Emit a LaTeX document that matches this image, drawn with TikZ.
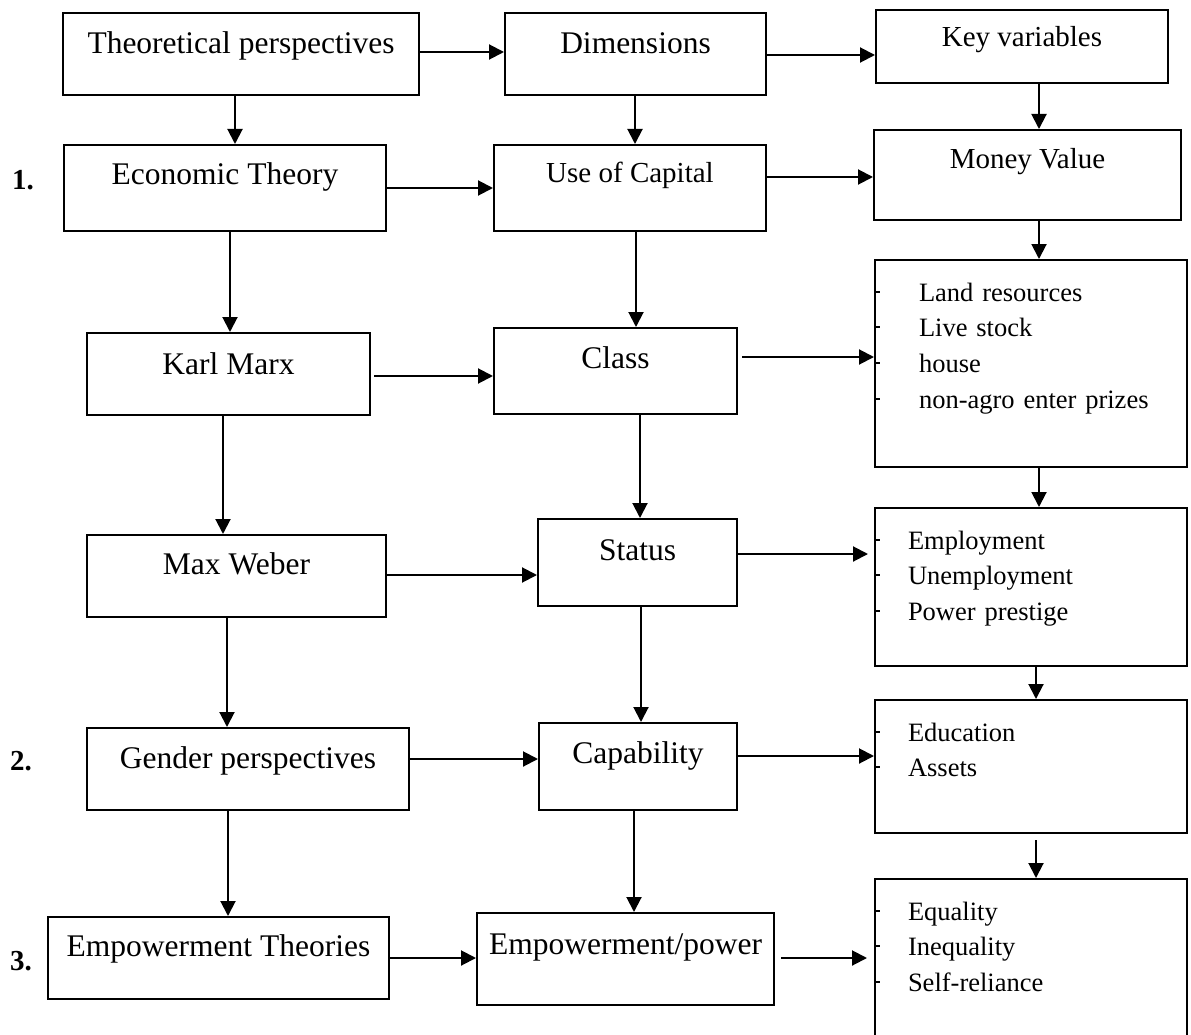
\documentclass[tikz,border=0pt]{standalone}
\usepackage{fontspec}
\setmainfont{Liberation Serif}
\usetikzlibrary{arrows.meta}
\begin{document}
\begin{tikzpicture}[x=1pt,y=-1pt,
  box/.style n args={3}{draw, line width=2pt, inner sep=0pt, anchor=north west,
    minimum width=#1, text height=#2, text depth=#3, align=center,
    font=\fontsize{31.5}{36}\selectfont},
  sbox/.style n args={3}{box={#1}{#2}{#3}, font=\fontsize{29}{34}\selectfont},
  lbox/.style n args={2}{draw, line width=2pt, inner sep=0pt, anchor=north west,
    text width=312pt, align=left, text height=41pt, text depth=#2,
    font=\fontsize{26.5}{35.7}\selectfont},
  num/.style={anchor=base west, inner sep=0pt, font=\fontsize{29}{34}\selectfont\bfseries},
  arr/.style={line width=2pt, -{Triangle[length=15pt,width=15pt]}},
  tk/.style={line width=2pt}]
\useasboundingbox (0,0) rectangle (1191,1035);
\fill[white] (0,0) rectangle (1191,1035);

% column 1
\node[box={356pt}{41pt}{41pt}] (tp) at (62,12) {Theoretical perspectives};
\node[box={322pt}{40pt}{46pt}] (et) at (63,144) {Economic Theory};
\node[box={283pt}{41pt}{41pt}] (km) at (86,332) {Karl Marx};
\node[box={299pt}{39pt}{43pt}] (mw) at (86,534) {Max Weber};
\node[box={322pt}{40pt}{42pt}] (gp) at (86,727) {Gender perspectives};
\node[box={341pt}{39pt}{43pt}] (empt) at (47,916) {Empowerment Theories};

% column 2
\node[box={261pt}{41pt}{41pt}] (dim) at (504,12) {Dimensions};
\node[sbox={272pt}{38pt}{48pt}] (uoc) at (493,144) {Use of Capital};
\node[box={243pt}{40pt}{46pt}] (cls) at (493,327) {Class};
\node[box={199pt}{41pt}{46pt}] (st) at (537,518) {Status};
\node[box={198pt}{40pt}{47pt}] (cap) at (538,722) {Capability};
\node[box={297pt}{41pt}{51pt}] (ep) at (476,912) {Empowerment/power};

% column 3
\node[sbox={292pt}{37pt}{36pt}] (kv) at (875,9) {Key variables};
\node[sbox={307pt}{39pt}{51pt}] (mv) at (873,129) {Money Value};
\node[lbox={312pt}{166pt}] (l1) at (874,259)
  {\hspace*{44pt}Land resources\\\hspace*{44pt}Live stock\\\hspace*{44pt}house\\\hspace*{44pt}non-agro enter prizes};
\node[lbox={312pt}{117pt}] (l2) at (874,507)
  {\hspace*{33pt}Employment\\\hspace*{33pt}Unemployment\\\hspace*{33pt}Power prestige};
\node[lbox={312pt}{92pt}] (l3) at (874,699)
  {\hspace*{33pt}Education\\\hspace*{33pt}Assets};
\node[lbox={312pt}{129pt}] (l4) at (874,878)
  {\hspace*{33pt}Equality\\\hspace*{33pt}Inequality\\\hspace*{33pt}Self-reliance};

% list ticks
\foreach \d in {32.5,68.2,103.9,139.6} \draw[tk] (l1.north west) ++(0,\d) -- ++(6,0);
\foreach \d in {32.5,68.2,103.9} \draw[tk] (l2.north west) ++(0,\d) -- ++(6,0);
\foreach \d in {32.5,68.2} \draw[tk] (l3.north west) ++(0,\d) -- ++(6,0);
\foreach \d in {32.5,68.2,103.9} \draw[tk] (l4.north west) ++(0,\d) -- ++(6,0);

% numbers
\node[num] (n1) at (12,190) {1.};
\node[num] (n2) at (10,770) {2.};
\node[num] (n3) at (10,970) {3.};

% horizontal arrows
\draw[arr] (tp.east |- 0,52) -- (dim.west |- 0,52);
\draw[arr] (dim.east |- 0,55) -- (kv.west |- 0,55);
\draw[arr] (et.east |- 0,188) -- (uoc.west |- 0,188);
\draw[arr] (uoc.east |- 0,177) -- (mv.west |- 0,177);
\draw[arr, shorten <=3pt] (km.east |- 0,376) -- (cls.west |- 0,376);
\draw[arr, shorten <=4pt] (cls.east |- 0,357) -- (l1.west |- 0,357);
\draw[arr] (mw.east |- 0,575) -- (st.west |- 0,575);
\draw[arr, shorten >=6pt] (st.east |- 0,554) -- (l2.west |- 0,554);
\draw[arr] (gp.east |- 0,759) -- (cap.west |- 0,759);
\draw[arr] (cap.east |- 0,756) -- (l3.west |- 0,756);
\draw[arr] (empt.east |- 0,958) -- (ep.west |- 0,958);
\draw[arr, shorten <=6pt, shorten >=7pt] (ep.east |- 0,958) -- (l4.west |- 0,958);

% vertical arrows
\draw[arr] (tp.south -| 235,0) -- (et.north -| 235,0);
\draw[arr] (dim.south -| 635,0) -- (uoc.north -| 635,0);
\draw[arr] (kv.south -| 1039,0) -- (mv.north -| 1039,0);
\draw[arr] (et.south -| 230,0) -- (km.north -| 230,0);
\draw[arr] (uoc.south -| 636,0) -- (cls.north -| 636,0);
\draw[arr] (mv.south -| 1039,0) -- (l1.north -| 1039,0);
\draw[arr] (km.south -| 223,0) -- (mw.north -| 223,0);
\draw[arr] (cls.south -| 640,0) -- (st.north -| 640,0);
\draw[arr] (l1.south -| 1039,0) -- (l2.north -| 1039,0);
\draw[arr] (mw.south -| 227,0) -- (gp.north -| 227,0);
\draw[arr] (st.south -| 641,0) -- (cap.north -| 641,0);
\draw[arr] (l2.south -| 1036,0) -- (l3.north -| 1036,0);
\draw[arr] (gp.south -| 228,0) -- (empt.north -| 228,0);
\draw[arr] (cap.south -| 634,0) -- (ep.north -| 634,0);
\draw[arr, shorten <=6pt] (l3.south -| 1036,0) -- (l4.north -| 1036,0);
\end{tikzpicture}
\end{document}
